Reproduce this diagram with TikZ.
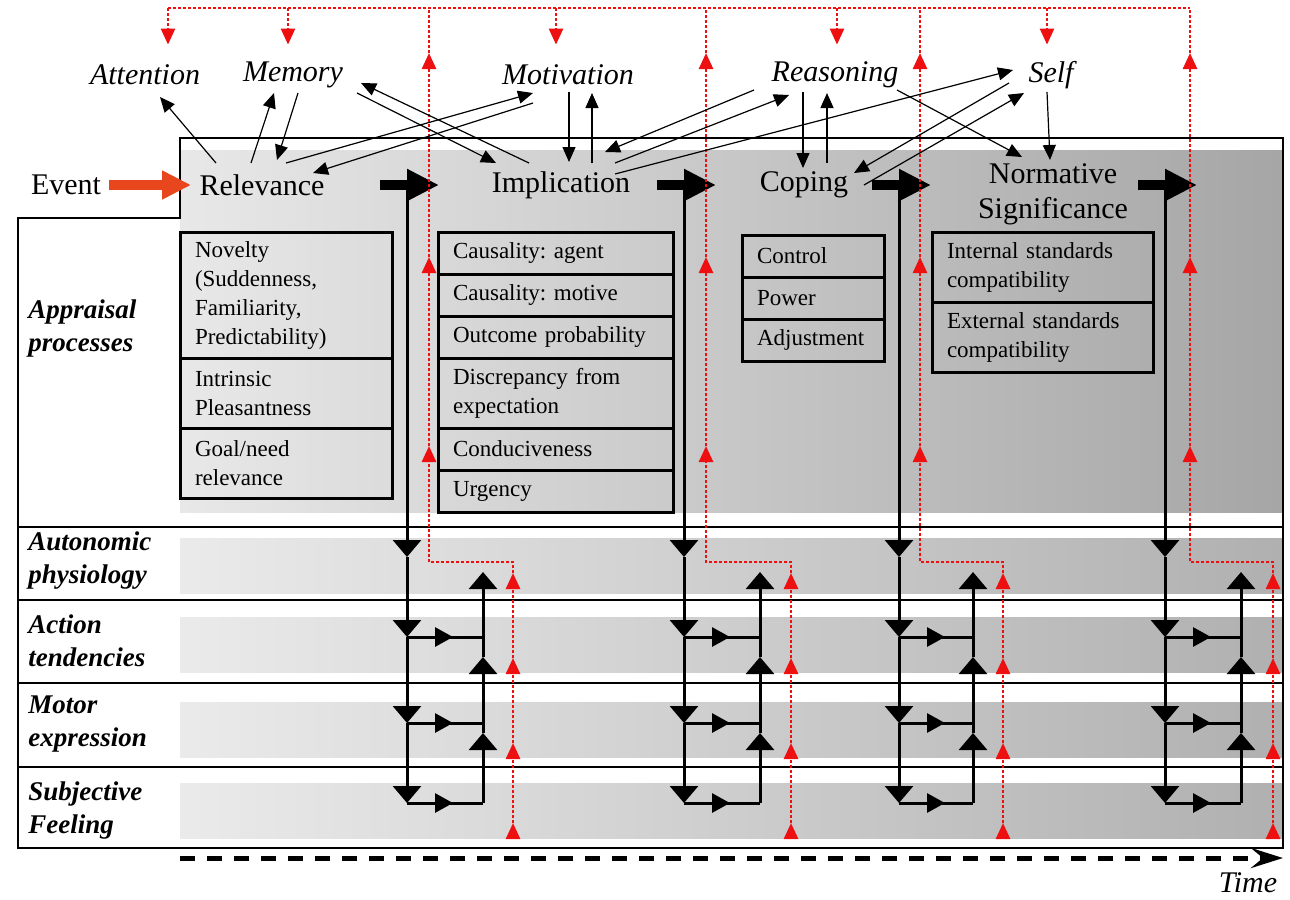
\documentclass[tikz,border=0pt]{standalone}
\usepackage{fontspec}
\setmainfont{Liberation Serif}
\usetikzlibrary{arrows.meta}
\definecolor{eventred}{RGB}{232,70,28}
\definecolor{fbred}{RGB}{238,16,16}
\frenchspacing

\begin{document}
\begin{tikzpicture}[x=0.5bp, y=-0.5bp,
    stage/.style={font=\fontsize{15bp}{17.5bp}\selectfont, align=center, inner sep=4bp},
    cog/.style={font=\fontsize{15bp}{18bp}\selectfont\itshape, inner sep=2bp, minimum height=30bp},
    rowlabel/.style={font=\fontsize{13.5bp}{16.5bp}\selectfont\bfseries\itshape, align=left, anchor=west, inner sep=0pt},
    cell/.style={draw, line width=1.5bp, anchor=north west, outer sep=0pt, align=left, inner xsep=7.5bp, inner ysep=0pt, font=\fontsize{11.5bp}{14.5bp}\selectfont},
    con/.style={line width=0.6bp, -{Triangle[length=7.5bp, width=6.5bp]}},
    bigarrow/.style={line width=5bp, -{Triangle[length=16bp, width=15bp]}},
    colline/.style={line width=1.5bp},
    vtip/.style={colline, -{Triangle[length=8.5bp, width=14bp]}},
    htip/.style={colline, -{Triangle[length=9bp, width=9.5bp]}},
    fb/.style={fbred, line width=1.3bp, dash pattern=on 1.3bp off 1.2bp},
    fbtip/.style={fb, -{Triangle[length=8bp, width=7bp]}}]

\useasboundingbox (0,0) rectangle (1290,899);

\shade[left color=black!9, right color=black!35] (180,150) rectangle (1283,512);
\foreach \t/\b in {538/593, 617/672, 702/757, 783/838}
    \shade[left color=black!8, right color=black!31] (180,\t) rectangle (1283,\b);

\draw[line width=0.75bp] (180,138) -- (1283,138) -- (1283,848) -- (18,848) -- (18,218) -- (180,218) -- cycle;
\foreach \y in {527, 600, 683, 767}
    \draw[line width=0.75bp] (18,\y) -- (1283,\y);

\node[cell, text width=91bp, minimum height=63bp] at (180,232) (nov) {Novelty\\(Suddenness,\\Familiarity,\\Predictability)};
\node[cell, text width=91bp, minimum height=35bp] at (nov.south west) (pleas) {Intrinsic\\Pleasantness};
\node[cell, text width=91bp, minimum height=35bp] at (pleas.south west) (goal) {Goal/need\\relevance};

\node[cell, text width=102.5bp, minimum height=21bp] at (438,232) (agent) {Causality: agent};
\node[cell, text width=102.5bp, minimum height=21bp] at (agent.south west) (motive) {Causality: motive};
\node[cell, text width=102.5bp, minimum height=21bp] at (motive.south west) (prob) {Outcome probability};
\node[cell, text width=102.5bp, minimum height=35bp] at (prob.south west) (disc) {Discrepancy from\\expectation};
\node[cell, text width=102.5bp, minimum height=21bp] at (disc.south west) (cond) {Conduciveness};
\node[cell, text width=102.5bp, minimum height=21bp] at (cond.south west) (urg) {Urgency};

\node[cell, text width=56bp, minimum height=21bp] at (742,235) (control) {Control};
\node[cell, text width=56bp, minimum height=21bp] at (control.south west) (power) {Power};
\node[cell, text width=56bp, minimum height=21bp] at (power.south west) (adjust) {Adjustment};

\node[cell, text width=95.5bp, minimum height=35bp] at (932,232) (internal) {Internal standards\\compatibility};
\node[cell, text width=95.5bp, minimum height=35bp] at (internal.south west) (external) {External standards\\compatibility};

\node[rowlabel] at (28,328) (appr) {Appraisal\\processes};
\node[rowlabel] at (28,561) (auton) {Autonomic\\physiology};
\node[rowlabel] at (28,641) (action) {Action\\tendencies};
\node[rowlabel] at (28,724) (motor) {Motor\\expression};
\node[rowlabel] at (28,810) (subj) {Subjective\\Feeling};

\node[stage] at (66,185) (event) {Event};
\node[stage] at (262,185) (rel) {Relevance};
\node[stage] at (561,185) (imp) {Implication};
\node[stage] at (804,185) (cop) {Coping};
\node[stage] at (1053,194) (norm) {Normative\\Significance};

\node[cog] at (145,75) (att) {Attention};
\node[cog] at (293,75) (mem) {Memory};
\node[cog] at (568,75) (mot) {Motivation};
\node[cog] at (835,75) (rea) {Reasoning};
\node[cog] at (1051,75) (self) {Self};

\draw[eventred, line width=5bp, -{Triangle[length=14.5bp, width=13.5bp]}] (event) -- (rel);

\coordinate (fbtop) at (168,8);
\foreach \i/\l/\r/\fl/\fr in {1/407/483/429/513, 2/684/760/706/791, 3/899/973/920/1003, 4/1165/1241/1190/1273}{
    \coordinate (b\i) at (\l-27,185);
    \coordinate (e\i) at (\l+32,185);
    \coordinate (d\i0) at (\l,190);
    \coordinate (d\i1) at (\l,557);
    \coordinate (d\i2) at (\l,637);
    \coordinate (d\i3) at (\l,723);
    \coordinate (d\i4) at (\l,803);
    \coordinate (u\i1) at (\r,572);
    \coordinate (u\i2) at (\r,657);
    \coordinate (u\i3) at (\r,733);
    \coordinate (u\i4) at (\r,803);
    \coordinate (f\i0) at (\fr,838);
    \coordinate (f\i1) at (\fr,823);
    \coordinate (f\i2) at (\fr,743);
    \coordinate (f\i3) at (\fr,658);
    \coordinate (f\i4) at (\fr,573);
    \coordinate (g\i0) at (\fl,562);
    \coordinate (g\i1) at (\fl,446);
    \coordinate (g\i2) at (\fl,257);
    \coordinate (g\i3) at (\fl,53);
    \coordinate (g\i4) at (\fl,8);

    \foreach \a/\b in {0/1, 1/2, 2/3, 3/4}
        \draw[vtip] (d\i\a) -- (d\i\b);
    \foreach \a/\b in {4/3, 3/2, 2/1}
        \draw[vtip] (u\i\a) -- (u\i\b);
    \foreach \a in {2, 3, 4}{
        \draw[colline] (d\i\a) -- (d\i\a -| u\i1);
        \draw[htip] (d\i\a) -- ++(46,0);
    }
    \draw[bigarrow] (b\i) -- (e\i);

    \foreach \a/\b in {0/1, 1/2, 2/3, 3/4}
        \draw[fbtip] (f\i\a) -- (f\i\b);
    \draw[fbtip] (f\i4) |- (g\i0) -- (g\i1);
    \draw[fbtip] (g\i1) -- (g\i2);
    \draw[fbtip] (g\i2) -- (g\i3);
    \draw[fb] (g\i3) -- (g\i4);
}
\draw[fb] (fbtop) -- (g44);
\foreach \x/\n in {168/att, 288/mem, 556/mot, 837/rea, 1047/self}
    \draw[fbtip] (\x,0 |- fbtop) -- (\x,0 |- \n.north);

\draw[con] ([shift={(-46,-22)}]rel.center) -- ([shift={(15,22)}]att.center);
\draw[con] ([shift={(-11,-22)}]rel.center) -- ([shift={(-19,18)}]mem.center);
\draw[con] ([shift={(5,18)}]mem.center) -- ([shift={(15,-25)}]rel.center);
\draw[con] ([shift={(24,-22)}]rel.center) -- ([shift={(-35,18)}]mot.center);
\draw[con] ([shift={(-35,28)}]mot.center) -- ([shift={(51,-12)}]rel.center);
\draw[con] ([shift={(64,18)}]mem.center) -- ([shift={(-65,-22)}]imp.center);
\draw[con] ([shift={(-32,-22)}]imp.center) -- ([shift={(68,8)}]mem.center);
\draw[con] ([shift={(1,17)}]mot.center) -- ([shift={(8,-23)}]imp.center);
\draw[con] ([shift={(31,-22)}]imp.center) -- ([shift={(24,18)}]mot.center);
\draw[con] ([shift={(-81,15)}]rea.center) -- ([shift={(44,-33)}]imp.center);
\draw[con] ([shift={(54,-22)}]imp.center) -- ([shift={(-46,20)}]rea.center);
\draw[con] ([shift={(54,-11)}]imp.center) -- ([shift={(-38,-5)}]self.center);
\draw[con] ([shift={(-32,17)}]rea.center) -- ([shift={(-1,-17)}]cop.center);
\draw[con] ([shift={(23,-22)}]cop.center) -- ([shift={(-8,18)}]rea.center);
\draw[con] ([shift={(-42,8)}]self.center) -- ([shift={(50,-12)}]cop.center);
\draw[con] ([shift={(60,0)}]cop.center) -- ([shift={(-27,18)}]self.center);
\draw[con] ([shift={(62,15)}]rea.center) -- ([shift={(-31,-37)}]norm.center);
\draw[con] ([shift={(-4,17)}]self.center) -- ([shift={(-3,-34)}]norm.center);

\coordinate (t0) at (180,858);
\coordinate (t1) at (1283,858);
\draw[line width=2.5bp, dash pattern=on 7.5bp off 6bp, -{Stealth[length=16bp, width=10bp, inset=6bp]}] (t0) -- (t1);
\node[cog] at (1248,883) (time) {Time};
\end{tikzpicture}
\end{document}
